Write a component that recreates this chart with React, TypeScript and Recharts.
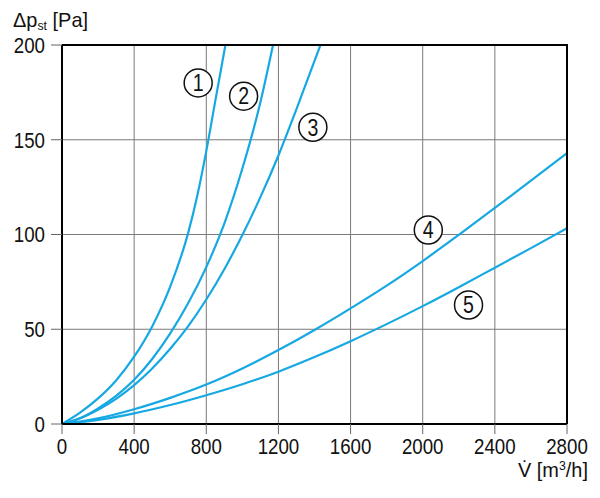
import React from 'react';
import { LineChart, Line, XAxis, YAxis, CartesianGrid, ReferenceDot } from 'recharts';

// volume flow [m3/h] and static pressure drop [Pa], one pair of arrays per curve
const flow1 = [0, 100, 200, 300, 400, 500, 600, 700, 750, 800, 850, 906];
const dp1 = [0, 6, 13.5, 23, 35.5, 51.5, 72.5, 101, 120.5, 144, 170.5, 200];

const flow2 = [0, 100, 200, 300, 400, 500, 600, 700, 800, 900, 1000, 1100, 1170];
const dp2 = [0, 3, 8.2, 14.8, 23.3, 34.3, 47.8, 63.8, 82.8, 105.8, 134.8, 169.8, 200];

const flow3 = [0, 100, 200, 300, 400, 500, 600, 700, 800, 900, 1000, 1100, 1200, 1300, 1433];
const dp3 = [0, 3, 7.5, 13.3, 20.5, 29.3, 39.7, 51.7, 65.7, 81.7, 99.7, 119.7, 141.7, 166.2, 200];

const flow45 = [0, 200, 400, 600, 800, 1000, 1200, 1400, 1600, 1800, 2000, 2200, 2400, 2600, 2800];
const dp4 = [0, 3, 7.8, 13.8, 20.8, 29.3, 39, 49.6, 61, 73, 86, 99.8, 114, 128.4, 143];
const dp5 = [0, 2.2, 5.6, 10, 15.2, 21, 27.6, 35.3, 43.7, 52.7, 62.2, 72.2, 82.5, 92.8, 103.3];

const xTicks = [0, 400, 800, 1200, 1600, 2000, 2400, 2800];
const yTicks = [0, 50, 100, 150, 200];

// where the circled curve numbers sit (data units)
const labelIds = ['1', '2', '3', '4', '5'];
const labelFlow = [755, 1007, 1391, 2031, 2254];
const labelDp = [180, 173, 156.6, 102.4, 62.8];

const toRows = (xs: number[], ys: number[]) => xs.map((v, i) => ({ flow: v, dp: ys[i] }));

const curves = [
  toRows(flow1, dp1),
  toRows(flow2, dp2),
  toRows(flow3, dp3),
  toRows(flow45, dp4),
  toRows(flow45, dp5),
];

const FONT = "'Liberation Sans', Arial, sans-serif";
const BLUE = '#16a8e2';
const NARROW = 0.85; // squeeze text horizontally, the original uses a condensed face

const XTick = (props: any) => {
  const { x, y, payload } = props;
  return (
    <text
      transform={`translate(${x},${y}) scale(${NARROW},1)`}
      textAnchor="middle"
      dy="0.71em"
      fill="#111"
      fontSize={22}
      fontFamily={FONT}
    >
      {payload.value}
    </text>
  );
};

const YTick = (props: any) => {
  const { x, y, payload } = props;
  return (
    <text
      transform={`translate(${x},${y}) scale(${NARROW},1)`}
      textAnchor="end"
      dy="0.36em"
      fill="#111"
      fontSize={22}
      fontFamily={FONT}
    >
      {payload.value}
    </text>
  );
};

const YTitle = () => (
  <text transform="translate(13,27) scale(0.95,1)" fill="#111" fontFamily={FONT} fontSize={21}>
    Δp
    <tspan fontSize={13} dy={3}>st</tspan>
    <tspan dy={-3}> [Pa]</tspan>
  </text>
);

const XTitle = () => (
  <text transform="translate(588,477) scale(0.95,1)" textAnchor="end" fill="#111" fontFamily={FONT} fontSize={21}>
    V̇ [m
    <tspan fontSize={13} dy={-7}>3</tspan>
    <tspan dy={7}>/h]</tspan>
  </text>
);

const CircleLabel = (props: any) => {
  const { viewBox, value } = props;
  const cx = viewBox.x + viewBox.width / 2;
  const cy = viewBox.y + viewBox.height / 2;
  return (
    <text
      transform={`translate(${cx},${cy}) scale(${NARROW},1)`}
      textAnchor="middle"
      dy="0.36em"
      fill="#111"
      fontSize={23}
      fontFamily={FONT}
    >
      {value}
    </text>
  );
};

export default function App() {
  return (
    <div style={{ position: 'absolute', left: 0, top: 0, width: 600, height: 498, background: '#fff' }}>
      <LineChart width={600} height={498} margin={{ top: 45, right: 33, left: 0, bottom: 0 }}>
        <CartesianGrid stroke="#7a7a7a" strokeWidth={1} />
        <XAxis
          type="number"
          dataKey="flow"
          domain={[0, 2800]}
          ticks={xTicks}
          allowDataOverflow
          height={74}
          tickSize={10}
          tickMargin={4}
          axisLine={{ stroke: '#000', strokeWidth: 2 }}
          tickLine={{ stroke: '#666' }}
          tick={<XTick />}
          label={{ content: () => <XTitle /> }}
        />
        <YAxis
          type="number"
          dataKey="dp"
          domain={[0, 200]}
          ticks={yTicks}
          allowDataOverflow
          width={62}
          tickSize={11}
          tickMargin={6}
          axisLine={{ stroke: '#000', strokeWidth: 2 }}
          tickLine={{ stroke: '#666' }}
          tick={<YTick />}
          label={{ content: () => <YTitle /> }}
        />
        {curves.map((rows, i) => (
          <Line
            key={i}
            data={rows}
            dataKey="dp"
            type="monotone"
            stroke={BLUE}
            strokeWidth={2.2}
            dot={false}
            activeDot={false}
            isAnimationActive={false}
          />
        ))}
        {labelIds.map((id, i) => (
          <ReferenceDot
            key={id}
            x={labelFlow[i]}
            y={labelDp[i]}
            r={14}
            fill="#fff"
            stroke="#111"
            strokeWidth={1.5}
            label={<CircleLabel value={id} />}
          />
        ))}
      </LineChart>
      {/* top and right frame of the plot */}
      <svg width={600} height={498} style={{ position: 'absolute', left: 0, top: 0, pointerEvents: 'none' }}>
        <polyline points="62,45 567,45 567,424" fill="none" stroke="#000" strokeWidth={2} />
      </svg>
    </div>
  );
}
